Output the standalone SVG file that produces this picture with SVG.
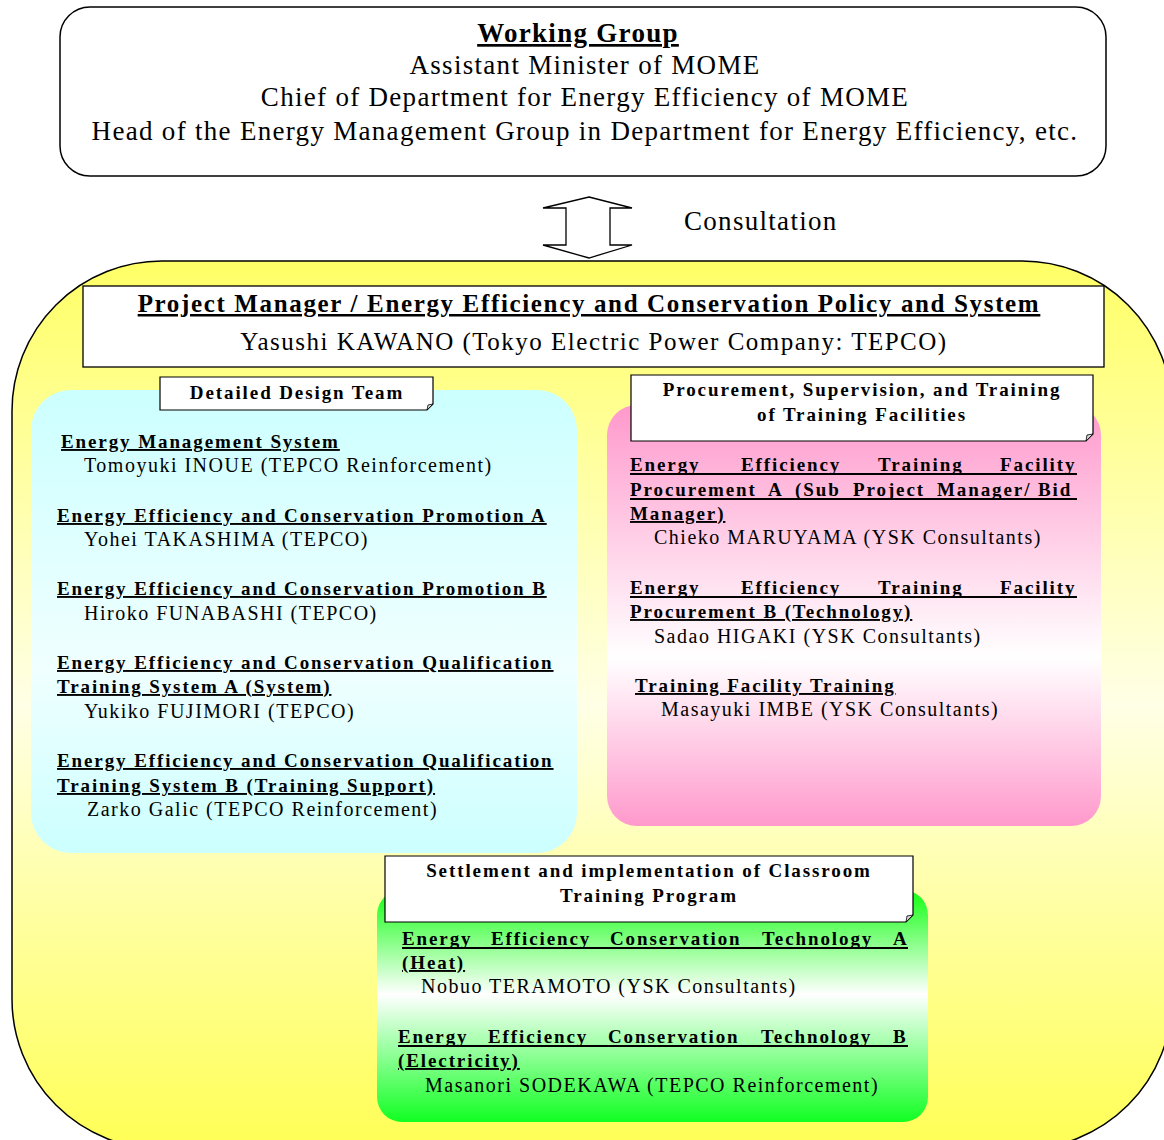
<svg xmlns="http://www.w3.org/2000/svg" width="1164" height="1140" viewBox="0 0 1164 1140">
  <defs>
    <linearGradient id="gYellow" x1="0" y1="0" x2="0" y2="1">
      <stop offset="0" stop-color="#ffff66"/>
      <stop offset="0.5" stop-color="#ffffe6"/>
      <stop offset="1" stop-color="#ffff55"/>
    </linearGradient>
    <linearGradient id="gCyan" x1="0" y1="0" x2="0" y2="1">
      <stop offset="0" stop-color="#ccffff"/>
      <stop offset="0.6" stop-color="#f0ffff"/>
      <stop offset="1" stop-color="#ccffff"/>
    </linearGradient>
    <linearGradient id="gPink" x1="0" y1="0" x2="0" y2="1">
      <stop offset="0" stop-color="#ff99cc"/>
      <stop offset="0.6" stop-color="#ffffff"/>
      <stop offset="1" stop-color="#ff99cc"/>
    </linearGradient>
    <linearGradient id="gGreen" x1="0" y1="0" x2="0" y2="1">
      <stop offset="0" stop-color="#11ff11"/>
      <stop offset="0.45" stop-color="#ffffff"/>
      <stop offset="1" stop-color="#11ff22"/>
    </linearGradient>
    <style>
      text { font-family: "Liberation Serif", "Times New Roman", serif; fill: #000;
             text-decoration-skip-ink: none; text-decoration-thickness: 1.8px; }
      .big { font-size: 27px; letter-spacing: 1.3px; }
      .bigb { font-size: 27px; letter-spacing: 1.3px; font-weight: bold; text-decoration: underline; }
      .pm { font-size: 25px; letter-spacing: 1.5px; }
      .pmb { font-size: 25px; letter-spacing: 1.65px; font-weight: bold; text-decoration: underline; }
      .h { font-size: 19px; letter-spacing: 1.9px; font-weight: bold; text-decoration: underline; }
      .hj { font-size: 19px; letter-spacing: 1.9px; font-weight: bold; }
      .lbl { font-size: 19px; letter-spacing: 1.9px; font-weight: bold; }
      .n { font-size: 20px; letter-spacing: 1.5px; }
      .ul { stroke: #000; stroke-width: 1.8; }
      .frame { fill: #fff; stroke: #000; stroke-width: 1.2; }
      .fold { fill: #d8d8d8; stroke: #000; stroke-width: 0.8; }
    </style>
  </defs>

  <!-- Working group (top) -->
  <g id="working-group">
    <rect x="60" y="7" width="1046" height="169" rx="30" ry="30" fill="#fff" stroke="#000" stroke-width="1.5"/>
    <text class="bigb" x="578" y="42" text-anchor="middle">Working Group</text>
    <text class="big" x="585" y="74" text-anchor="middle">Assistant Minister of MOME</text>
    <text class="big" x="585" y="106" text-anchor="middle">Chief of Department for Energy Efficiency of MOME</text>
    <text class="big" x="585" y="140" text-anchor="middle">Head of the Energy Management Group in Department for Energy Efficiency, etc.</text>
  </g>

  <!-- Consultation link -->
  <g id="connectors">
    <polygon points="589,197 632,208 610,208 610,245 632,245 589,258 543,245 566,245 566,208 543,208" fill="#fff" stroke="#000" stroke-width="1.3"/>
    <text class="big" x="684" y="230">Consultation</text>
  </g>

  <!-- Project team enclosure -->
  <g id="project-team">
    <rect x="12" y="261" width="1160" height="888" rx="150" ry="150" fill="url(#gYellow)" stroke="#000" stroke-width="1.5"/>
  </g>

  <!-- Project manager -->
  <g id="project-manager">
    <rect x="83" y="286" width="1021" height="81" fill="#fff" stroke="#000" stroke-width="1.3"/>
    <text class="pmb" x="589" y="312" text-anchor="middle">Project Manager / Energy Efficiency and Conservation Policy and System</text>
    <text class="pm" x="594" y="350" text-anchor="middle">Yasushi KAWANO (Tokyo Electric Power Company: TEPCO)</text>
  </g>

  <!-- Detailed design team -->
  <g id="detailed-design-team">
    <rect x="31" y="390" width="546" height="463" rx="40" ry="40" fill="url(#gCyan)"/>
    <path class="frame" d="M160,377 H433 V404 L427,410 H160 Z"/>
    <path class="fold" d="M433,404 L427,410 L428,405 Z"/>
    <text class="lbl" x="297" y="399" text-anchor="middle">Detailed Design Team</text>

    <text class="h" x="61" y="448">Energy Management System</text>
    <text class="n" x="84" y="472">Tomoyuki INOUE (TEPCO Reinforcement)</text>

    <text class="h" x="57" y="522">Energy Efficiency and Conservation Promotion A</text>
    <text class="n" x="84" y="546">Yohei TAKASHIMA (TEPCO)</text>

    <text class="h" x="57" y="595">Energy Efficiency and Conservation Promotion B</text>
    <text class="n" x="84" y="620">Hiroko FUNABASHI (TEPCO)</text>

    <text class="h" x="57" y="669">Energy Efficiency and Conservation Qualification</text>
    <text class="h" x="57" y="693">Training System A (System)</text>
    <text class="n" x="84" y="718">Yukiko FUJIMORI (TEPCO)</text>

    <text class="h" x="57" y="767">Energy Efficiency and Conservation Qualification</text>
    <text class="h" x="57" y="792">Training System B (Training Support)</text>
    <text class="n" x="87" y="816">Zarko Galic (TEPCO Reinforcement)</text>
  </g>

  <!-- Procurement, supervision and training of training facilities -->
  <g id="procurement-team">
    <rect x="607" y="405" width="494" height="421" rx="30" ry="30" fill="url(#gPink)"/>
    <path class="frame" d="M631,375 H1093 V434 L1086,441 H631 Z"/>
    <path class="fold" d="M1093,434 L1086,441 L1087,435 Z"/>
    <text class="lbl" x="862" y="396" text-anchor="middle">Procurement, Supervision, and Training</text>
    <text class="lbl" x="862" y="421" text-anchor="middle">of Training Facilities</text>

    <text class="hj" y="471"><tspan x="630">Energy</tspan><tspan x="741">Efficiency</tspan><tspan x="878">Training</tspan><tspan x="1000">Facility</tspan></text>
    <line class="ul" x1="630" y1="474" x2="1077" y2="474"/>
    <text class="hj" y="496"><tspan x="630">Procurement</tspan><tspan x="768">A</tspan><tspan x="795">(Sub</tspan><tspan x="853">Project</tspan><tspan x="937">Manager/</tspan><tspan x="1038">Bid</tspan></text>
    <line class="ul" x1="630" y1="499" x2="1077" y2="499"/>
    <text class="h" x="630" y="520">Manager)</text>
    <text class="n" x="654" y="544">Chieko MARUYAMA (YSK Consultants)</text>

    <text class="hj" y="594"><tspan x="630">Energy</tspan><tspan x="741">Efficiency</tspan><tspan x="878">Training</tspan><tspan x="1000">Facility</tspan></text>
    <line class="ul" x1="630" y1="597" x2="1077" y2="597"/>
    <text class="h" x="630" y="618">Procurement B (Technology)</text>
    <text class="n" x="654" y="643">Sadao HIGAKI (YSK Consultants)</text>

    <text class="h" x="635" y="692">Training Facility Training</text>
    <text class="n" x="661" y="716">Masayuki IMBE (YSK Consultants)</text>
  </g>

  <!-- Classroom training programme -->
  <g id="classroom-training">
    <rect x="377" y="890" width="551" height="232" rx="25" ry="25" fill="url(#gGreen)"/>
    <path class="frame" d="M385,856 H913 V915 L906,922 H385 Z"/>
    <path class="fold" d="M913,915 L906,922 L907,916 Z"/>
    <text class="lbl" x="649" y="877" text-anchor="middle">Settlement and implementation of Classroom</text>
    <text class="lbl" x="649" y="902" text-anchor="middle">Training Program</text>

    <text class="hj" y="945"><tspan x="402">Energy</tspan><tspan x="491">Efficiency</tspan><tspan x="610">Conservation</tspan><tspan x="762">Technology</tspan><tspan x="893">A</tspan></text>
    <line class="ul" x1="402" y1="948" x2="908" y2="948"/>
    <text class="h" x="402" y="969">(Heat)</text>
    <text class="n" x="421" y="993">Nobuo TERAMOTO (YSK Consultants)</text>

    <text class="hj" y="1043"><tspan x="398">Energy</tspan><tspan x="488">Efficiency</tspan><tspan x="608">Conservation</tspan><tspan x="761">Technology</tspan><tspan x="893">B</tspan></text>
    <line class="ul" x1="398" y1="1046" x2="908" y2="1046"/>
    <text class="h" x="398" y="1067">(Electricity)</text>
    <text class="n" x="425" y="1092">Masanori SODEKAWA (TEPCO Reinforcement)</text>
  </g>
</svg>
